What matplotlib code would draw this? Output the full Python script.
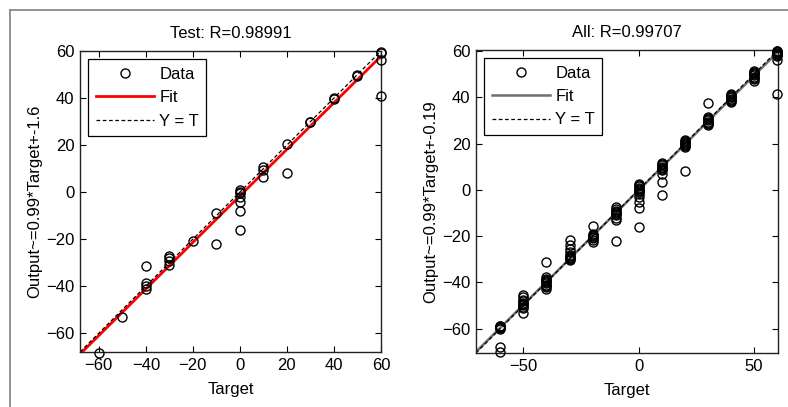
import matplotlib
matplotlib.use("Agg")
import matplotlib.pyplot as plt
from matplotlib.lines import Line2D
import numpy as np

plt.rcParams['font.family'] = ['Liberation Sans', 'DejaVu Sans']

# ---------------- data ----------------
test_title = "Test: R=0.98991"
test_ylabel = "Output~=0.99*Target+-1.6"
test_slope, test_intercept = 0.99, -1.6
test_lim = (-68.0, 60.0)
test_targets = [-60, -50, -40, -40, -40, -40, -30, -30, -30, -30, -20, -10, -10,
                0, 0, 0, 0, 0, 0, 0, 10, 10, 10, 20, 20, 30, 30, 40, 40,
                50, 50, 60, 60, 60, 60]
test_outputs = [-68.5, -53, -31.5, -38.5, -40, -41, -27, -28, -29.5, -31, -21, -9, -22,
                1, 0, -0.5, -2, -4, -8, -16, 10.5, 9.5, 6.5, 20.3, 8, 29.7, 30, 40, 39.5,
                50, 49.5, 59.7, 59, 56, 41]

all_title = "All: R=0.99707"
all_ylabel = "Output~=0.99*Target+-0.19"
all_slope, all_intercept = 0.99, -0.19
all_lim = (-70.6, 60.5)
all_groups = {
    -60: [-59.8, -59.5, -59.2, -59.0, -58.8, -60.2, -68.0, -70.1],
    -50: [-45.3, -46.5, -47.5, -48.2, -49.0, -49.5, -50.0, -50.5, -51.0, -53.1],
    -40: [-31.2, -37.7, -38.5, -39.0, -39.5, -40.0, -40.5, -41.0, -41.5, -42.0, -42.7],
    -30: [-21.5, -24.0, -25.5, -27.0, -28.0, -28.5, -29.0, -29.5, -30.0, -30.5],
    -20: [-15.8, -19.0, -19.5, -20.0, -20.5, -21.0, -21.5, -22.5],
    -10: [-7.4, -8.5, -9.0, -9.5, -10.0, -10.5, -11.0, -12.0, -13.2, -22.1],
    0: [2.7, 2.0, 1.5, 1.0, 0.5, 0.0, -0.5, -1.0, -2.0, -3.1, -5.3, -7.7, -16.1],
    10: [11.5, 11.0, 10.6, 10.0, 9.5, 9.0, 8.5, 7.0, 3.4, -2.1],
    20: [21.5, 21.0, 20.5, 20.2, 20.0, 19.5, 19.0, 18.5, 8.0],
    30: [37.5, 31.5, 31.0, 30.5, 30.0, 29.5, 29.0, 28.5, 28.0],
    40: [41.5, 41.0, 40.5, 40.1, 40.0, 39.5, 39.0, 38.5, 38.0],
    50: [51.5, 51.0, 50.5, 50.0, 49.5, 49.0, 48.5, 48.0, 47.2],
    60: [60.2, 60.0, 59.5, 59.0, 58.9, 58.5, 58.0, 56.0, 41.6],
}
all_targets = [t for t, vals in all_groups.items() for _ in vals]
all_outputs = [v for vals in all_groups.values() for v in vals]

legend_labels = ["Data", "Fit", "Y = T"]

# ---------------- figure ----------------
W, H = 788, 407
fig = plt.figure(figsize=(W / 100, H / 100), dpi=100)
FS = 12

def px_axes(x0, y0, x1, y1):
    return fig.add_axes([x0 / W, 1 - y1 / H, (x1 - x0) / W, (y1 - y0) / H])

def panel(ax, targets, outputs, slope, intercept, lim, title, ylabel, fitcolor, fitlw, xticks):
    xs = np.array(lim)
    ax.plot(targets, outputs, 'o', mfc='none', mec='black', ms=6.5, mew=1.0,
            label=legend_labels[0], zorder=3, clip_on=False)
    ax.plot(xs, slope * xs + intercept, '-', color=fitcolor, lw=fitlw,
            label=legend_labels[1], zorder=2)
    ax.plot(xs, xs, '--', color='black', lw=0.9, dashes=(3, 2),
            label=legend_labels[2], zorder=2.5)
    ax.set_xlim(lim)
    ax.set_ylim(lim)
    ax.set_xticks(xticks)
    ax.set_yticks([-60, -40, -20, 0, 20, 40, 60])
    ax.tick_params(direction='in', top=True, right=True, length=4.5, width=0.8,
                   labelsize=FS, pad=4, colors='black')
    for s in ax.spines.values():
        s.set_linewidth(1.0)
        s.set_color('#222222')
    ax.set_title(title, fontsize=FS, pad=9.5)
    ax.set_xlabel("Target", fontsize=FS, labelpad=7)
    ax.set_ylabel(ylabel, fontsize=FS, labelpad=3)
    leg = ax.legend(loc='upper left', fontsize=FS, numpoints=1, handlelength=3.5,
                    handletextpad=0.3, labelspacing=0.5, borderpad=0.45,
                    borderaxespad=0.5, fancybox=False, framealpha=1)
    leg.get_frame().set_edgecolor('black')
    leg.get_frame().set_linewidth(0.9)

ax1 = px_axes(80, 51, 381, 352)
panel(ax1, test_targets, test_outputs, test_slope, test_intercept, test_lim,
      test_title, test_ylabel, 'red', 2.0, [-60, -40, -20, 0, 20, 40, 60])

ax2 = px_axes(476, 50, 778, 353)
panel(ax2, all_targets, all_outputs, all_slope, all_intercept, all_lim,
      all_title, all_ylabel, '#6e6e6e', 1.8, [-50, 0, 50])

# window frame (gray top and left edges)
fig.add_artist(Line2D([10 / W, 10 / W], [0, 1 - 10 / H], color='#808080', lw=1.2))
fig.add_artist(Line2D([10 / W, 1], [1 - 10 / H, 1 - 10 / H], color='#808080', lw=1.2))

fig.savefig("out.png", dpi=100)
